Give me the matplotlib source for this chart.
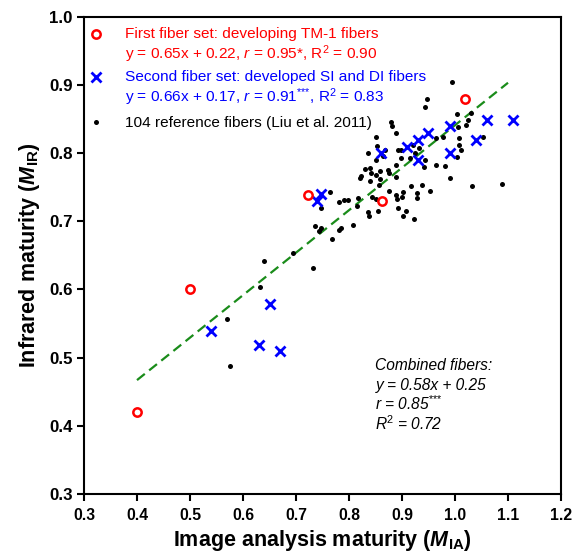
import matplotlib
matplotlib.use("Agg")
import matplotlib.pyplot as plt

plt.rcParams['font.family'] = ['Liberation Sans', 'DejaVu Sans']
plt.rcParams['mathtext.fontset'] = 'custom'
plt.rcParams['mathtext.rm'] = 'Liberation Sans'
plt.rcParams['mathtext.it'] = 'Liberation Sans:italic'
plt.rcParams['mathtext.bf'] = 'Liberation Sans:bold'
plt.rcParams['mathtext.bfit'] = 'Liberation Sans:italic:bold'

# ---- data ----
first_x = [0.40, 0.50, 0.723, 0.863, 1.018]
first_y = [0.42, 0.60, 0.738, 0.729, 0.879]

second_x = [0.54, 0.65, 0.63, 0.67, 0.748, 0.739, 0.861, 0.909, 0.930, 0.930,
            0.949, 0.990, 0.990, 1.040, 1.060, 1.109]
second_y = [0.539, 0.579, 0.519, 0.509, 0.740, 0.729, 0.800, 0.809, 0.819, 0.790,
            0.830, 0.840, 0.800, 0.819, 0.849, 0.849]

ref_x = [0.995, 0.947, 0.944, 1.003, 1.031, 1.024, 1.021, 1.006, 1.007, 1.052,
         0.965, 0.977, 1.011, 1.004, 0.965, 0.982, 0.991, 0.943, 0.941, 0.933,
         0.920, 0.924, 0.917, 0.938, 0.929, 0.929, 0.953, 1.033, 1.088, 0.908,
         0.922, 0.765, 0.748, 0.781, 0.791, 0.799, 0.817, 0.815, 0.736, 0.747,
         0.744, 0.785, 0.781, 0.808, 0.768, 0.694, 0.733, 0.821, 0.839, 0.859,
         0.844, 0.850, 0.854, 0.836, 0.837, 0.875, 0.889, 0.890, 0.900, 0.892,
         0.902, 0.888, 0.856, 0.901, 0.640, 0.633, 0.569, 0.576, 0.880, 0.882,
         0.888, 0.851, 0.853, 0.835, 0.867, 0.864, 0.892, 0.899, 0.889, 0.831,
         0.840, 0.842, 0.823, 0.851, 0.876, 0.899, 0.851, 0.858, 0.873, 1.007,
         0.916]
ref_y = [0.904, 0.879, 0.868, 0.857, 0.859, 0.848, 0.841, 0.838, 0.822, 0.824,
         0.822, 0.824, 0.804, 0.794, 0.782, 0.781, 0.763, 0.790, 0.780, 0.808,
         0.812, 0.800, 0.752, 0.753, 0.742, 0.734, 0.745, 0.751, 0.754, 0.715,
         0.703, 0.743, 0.720, 0.728, 0.731, 0.731, 0.734, 0.723, 0.693, 0.690,
         0.685, 0.690, 0.687, 0.695, 0.674, 0.653, 0.631, 0.763, 0.759, 0.762,
         0.736, 0.733, 0.715, 0.714, 0.707, 0.745, 0.739, 0.733, 0.736, 0.720,
         0.707, 0.765, 0.753, 0.743, 0.642, 0.604, 0.557, 0.488, 0.846, 0.839,
         0.829, 0.823, 0.810, 0.800, 0.804, 0.795, 0.804, 0.793, 0.783, 0.776,
         0.778, 0.771, 0.766, 0.768, 0.770, 0.805, 0.790, 0.774, 0.775, 0.812,
         0.792]

fit_x = [0.40, 1.10]
fit_y = [0.467, 0.903]

x_ticks = [0.3, 0.4, 0.5, 0.6, 0.7, 0.8, 0.9, 1.0, 1.1, 1.2]
y_ticks = [0.3, 0.4, 0.5, 0.6, 0.7, 0.8, 0.9, 1.0]

legend_lines = [
    ("First fiber set: developing TM-1 fibers", "red"),
    ("y = 0.65x + 0.22, $r$ = 0.95*, R$^2$ = 0.90", "red"),
    ("Second fiber set: developed SI and DI fibers", "blue"),
    ("y = 0.66x + 0.17, $r$ = 0.91$^{{*}{*}{*}}$, R$^2$ = 0.83", "blue"),
    ("104 reference fibers (Liu et al. 2011)", "black"),
]
combined_lines = ["Combined fibers:", "y = 0.58x + 0.25", "r = 0.85$^{{*}{*}{*}}$", "R$^2$ = 0.72"]

# ---- figure ----
fig = plt.figure(figsize=(5.83, 5.60), dpi=100)
ax = fig.add_axes([84/583, 1-494/560, (561-84)/583, (494-16.6)/560])

ax.plot(fit_x, fit_y, color='#1a8c1a', lw=1.6, ls=(0, (4.5, 2.5)), zorder=1)
ax.plot(ref_x, ref_y, 'o', color='black', ms=3.6, mew=0, zorder=2)
ax.plot(second_x, second_y, 'x', color='blue', ms=6.5, mew=2.0, zorder=3)
ax.plot(first_x, first_y, 'o', mfc='none', mec='red', ms=6.0, mew=1.8, zorder=4)

ax.set_xlim(0.3, 1.2)
ax.set_ylim(0.3, 1.0)
ax.set_xticks(x_ticks)
ax.set_yticks(y_ticks)
ax.set_xticklabels([f"{v:.1f}" for v in x_ticks], fontweight='bold')
ax.set_yticklabels([f"{v:.1f}" for v in y_ticks], fontweight='bold')
ax.tick_params(direction='out', length=5, width=1.5)
ax.tick_params(axis='x', pad=5, labelsize=11.3)
ax.tick_params(axis='y', pad=3, labelsize=12.2)
for s in ax.spines.values():
    s.set_linewidth(1.5)

ax.set_xlabel(r"Image analysis maturity ($\mathbfit{M}_{\mathbf{IA}}$)", fontsize=15.5,
              fontweight='bold', labelpad=4)
ax.set_ylabel(r"Infrared maturity ($\mathbfit{M}_{\mathbf{IR}}$)", fontsize=15.5,
              fontweight='bold', labelpad=5)

# legend (manual)
ax.plot([0.025], [0.963], 'o', mfc='none', mec='red', ms=6.0, mew=1.8, transform=ax.transAxes, clip_on=False)
ax.plot([0.025], [0.873], 'x', color='blue', ms=6.5, mew=2.0, transform=ax.transAxes, clip_on=False)
ax.plot([0.025], [0.780], 'o', color='black', ms=3.6, mew=0, transform=ax.transAxes, clip_on=False)
leg_y = [0.963, 0.921, 0.873, 0.832, 0.778]
for (txt, col), yy in zip(legend_lines, leg_y):
    ax.text(0.086, yy, txt, color=col, fontsize=11.1, va='center', ha='left', transform=ax.transAxes)

comb_y = [0.270, 0.228, 0.190, 0.147]
for txt, yy in zip(combined_lines, comb_y):
    ax.text(0.611, yy, txt, fontsize=11.2, style='italic', va='center', ha='left', transform=ax.transAxes)

fig.savefig("out.png", dpi=100)
